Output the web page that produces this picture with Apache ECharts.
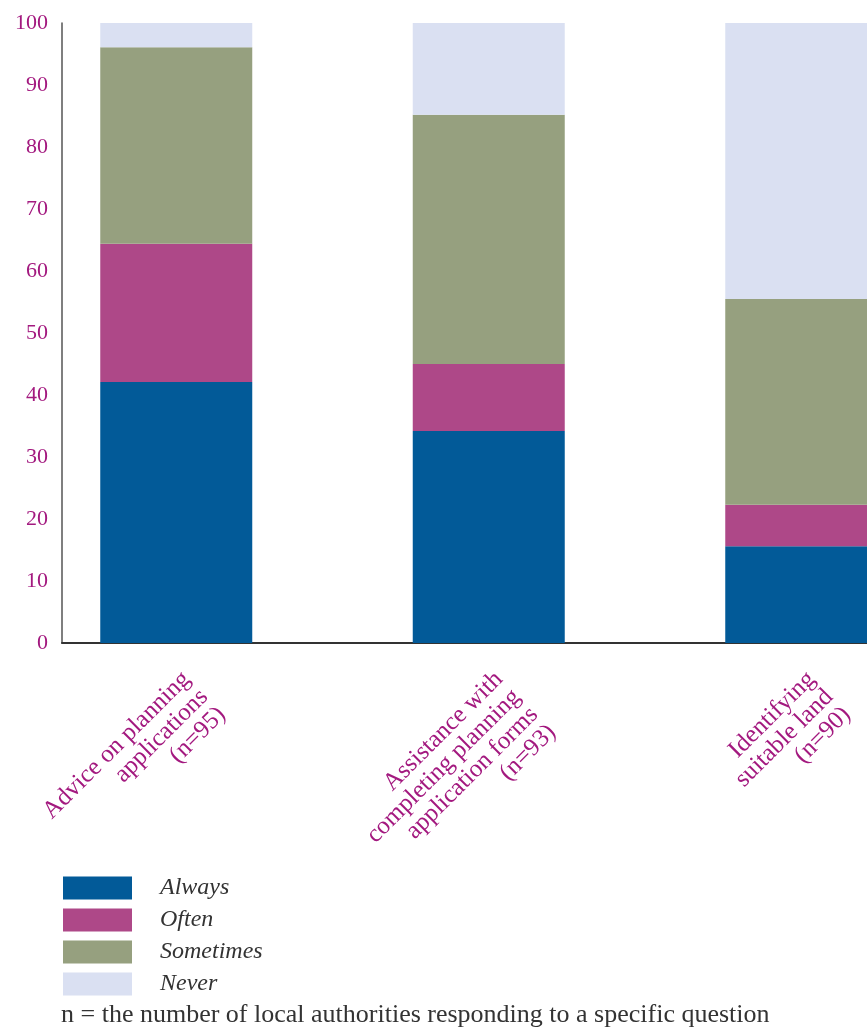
<!DOCTYPE html>
<html>
<head>
<meta charset="utf-8">
<script src="https://cdn.jsdelivr.net/npm/echarts@6/dist/echarts.min.js"></script>
<style>
  html, body { margin: 0; padding: 0; background: #fff; }
  #chart { width: 867px; height: 1029px; }
</style>
</head>
<body>
<div id="chart"></div>
<script>
// data (percent of authorities)
var categories = [
  'Advice on planning\napplications\n(n=95)',
  'Assistance with\ncompleting planning\napplication forms\n(n=93)',
  'Identifying\nsuitable land\n(n=90)'
];
var seriesNames = ['Always', 'Often', 'Sometimes', 'Never'];
var always = [42.1, 34.2, 15.6];
var often = [22.3, 10.8, 6.7];
var sometimes = [31.7, 40.2, 33.2];
var never = [3.9, 14.8, 44.5];
var yTicks = { min: 0, max: 100, step: 10 };
var footnote = 'n = the number of local authorities responding to a specific question';

var colors = ['#025a98', '#ae4888', '#96a07f', '#dae0f2'];
var magenta = '#a3197f';
var serif = '"Liberation Serif", "DejaVu Serif", serif';

var myChart = echarts.init(document.getElementById('chart'));

var values = [always, often, sometimes, never];
var series = seriesNames.map(function (name, i) {
  return {
    name: name,
    type: 'bar',
    stack: 'total',
    xAxisIndex: 0,
    yAxisIndex: 0,
    barWidth: 152,
    itemStyle: { color: colors[i] },
    data: values[i]
  };
});

myChart.setOption({
  animation: false,
  title: {
    text: footnote,
    left: 61,
    bottom: 1,
    padding: 0,
    textStyle: { fontFamily: serif, fontWeight: 'normal', fontSize: 26, color: '#333' }
  },
  legend: {
    orient: 'vertical',
    left: 63,
    top: 876,
    padding: 0,
    icon: 'rect',
    itemWidth: 69,
    itemHeight: 23,
    itemGap: 8,
    selectedMode: false,
    textStyle: { fontFamily: serif, fontStyle: 'italic', fontSize: 24, color: '#333', padding: [0, 0, 0, 23] },
    data: seriesNames
  },
  grid: [
    // bars: category slots of 312.5px, running past the right edge
    { left: 20, top: 23, width: 937.5, bottom: 386, outerBoundsMode: 'none' },
    // axis lines
    { left: 62, top: 23, right: 0, bottom: 386, outerBoundsMode: 'none' }
  ],
  xAxis: [{
    type: 'category',
    gridIndex: 0,
    data: categories,
    axisLine: { show: false },
    axisTick: { show: false },
    axisLabel: {
      interval: 0,
      rotate: 45,
      margin: 4,
      align: 'right',
      verticalAlign: 'top',
      padding: [15, 13, 0, 0],
      lineHeight: 25,
      fontFamily: serif,
      fontSize: 25,
      color: magenta
    }
  }, {
    type: 'value',
    gridIndex: 1,
    min: 0,
    max: 1,
    axisLine: { show: true, lineStyle: { color: '#333', width: 2 } },
    axisTick: { show: false },
    axisLabel: { show: false },
    splitLine: { show: false }
  }],
  yAxis: [{
    type: 'value',
    gridIndex: 0,
    min: yTicks.min,
    max: yTicks.max,
    show: false
  }, {
    type: 'value',
    gridIndex: 1,
    min: yTicks.min,
    max: yTicks.max,
    interval: yTicks.step,
    axisLine: { show: true, lineStyle: { color: '#555', width: 1.5 } },
    axisTick: { show: false },
    splitLine: { show: false },
    axisLabel: {
      margin: 14,
      fontFamily: serif,
      fontSize: 22,
      color: magenta
    }
  }],
  series: series
});
</script>
</body>
</html>
